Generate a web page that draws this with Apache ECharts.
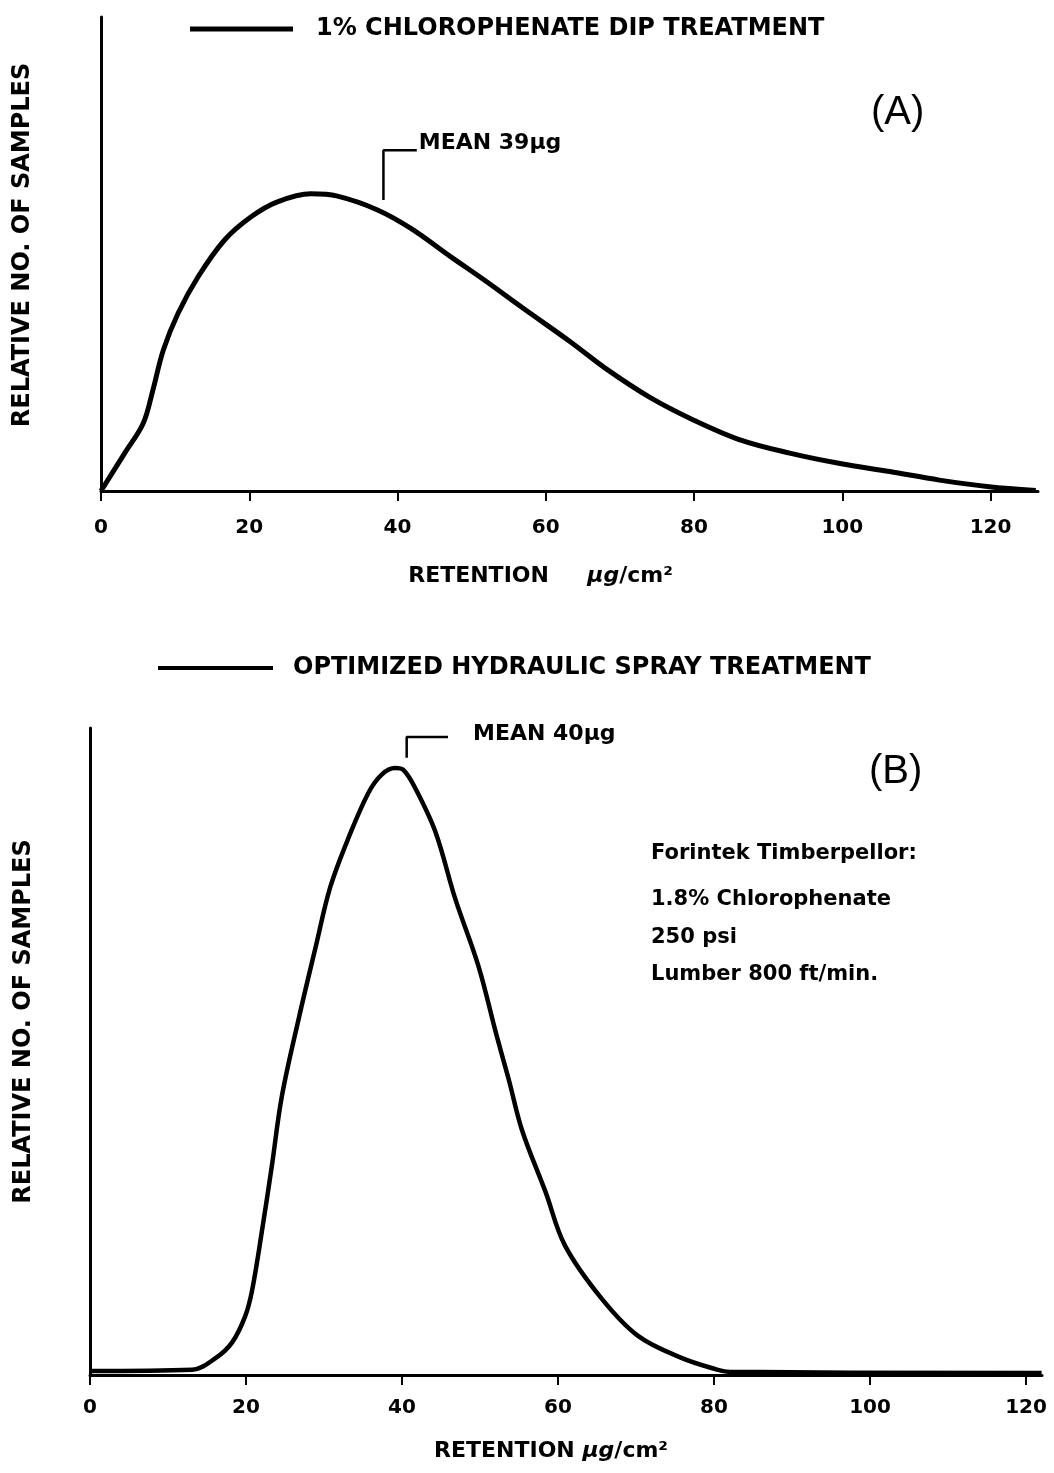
<!DOCTYPE html>
<html lang="en">
<head>
    <meta charset="UTF-8">
    <title>Retention distributions</title>
    <script src="https://cdn.jsdelivr.net/npm/echarts@6/dist/echarts.min.js"></script>
    <style>
        body {
            margin: 0;
            padding: 0;
            background-color: #fff;
        }
        #main {
            width: 1054px;
            height: 1473px;
        }
    </style>
</head>
<body>
<div id="main"></div>

<script>
    // tick labels shared by both x axes
    const xTicks = [0, 20, 40, 60, 80, 100, 120];

    // (A) 1% chlorophenate dip treatment
    const retentionA = [0, 3.2, 5.7, 7.0, 8.4, 10.4, 13.1, 16.7, 20.3, 23.8, 28.3, 31.9, 37.3, 41.8, 47.2, 51.7, 57.0, 63.3, 68.3, 74.1, 79.9, 86.2, 92.9, 99.7, 106.4, 113.1, 119.8, 126.1];
    const samplesA = [0, 8.0, 14.3, 21.3, 29.7, 37.5, 45.2, 53.0, 57.9, 61.0, 62.7, 62.2, 59.3, 55.4, 49.4, 44.5, 38.5, 31.5, 25.6, 19.7, 15.0, 10.8, 8.0, 5.8, 4.1, 2.3, 0.9, 0.1];

    // (B) optimized hydraulic spray treatment
    const retentionB = [0, 13.1, 16.1, 18.2, 19.9, 20.8, 22.1, 23.3, 24.6, 26.8, 28.9, 30.8, 33.2, 35.7, 37.4, 39.1, 40.2, 41.7, 44.3, 46.8, 49.8, 52.1, 53.7, 55.4, 58.4, 60.9, 65.6, 70.3, 75.9, 80.2, 81.9, 122];
    const samplesB = [0.6, 0.8, 2.6, 5.0, 9.1, 13.2, 22.7, 32.2, 43.1, 55.3, 66.0, 75.4, 83.2, 90.0, 92.8, 93.8, 93.5, 90.7, 83.9, 73.7, 63.2, 52.6, 45.6, 37.8, 28.3, 20.0, 11.8, 6.0, 2.6, 0.9, 0.5, 0.3];

    // mean markers (bracket pointing to the curve)
    const meanBracketAx = [38.1, 38.1, 42.6];
    const meanBracketAy = [61.4, 71.9, 71.9];
    const meanBracketBx = [40.6, 40.6, 45.9];
    const meanBracketBy = [95.4, 98.6, 98.6];

    const nameA = '1% CHLOROPHENATE DIP TREATMENT';
    const nameB = 'OPTIMIZED HYDRAULIC SPRAY TREATMENT';
    const noteLines = ['Forintek Timberpellor:', '1.8% Chlorophenate', '250 psi', 'Lumber 800 ft/min.'];

    const FONT = '"DejaVu Sans", sans-serif';

    function pairs(xs, ys) {
        return xs.map((x, i) => [x, ys[i]]);
    }

    function xAxisFor(gridIndex, max, labelMargin, nameGap, namePad, spacer) {
        return {
            type: 'value',
            gridIndex: gridIndex,
            min: 0,
            max: max,
            interval: 20,
            name: 'RETENTION' + spacer + '{u|μg}/cm²',
            nameLocation: 'middle',
            nameGap: nameGap,
            nameTextStyle: {
                color: '#000',
                fontFamily: FONT,
                fontWeight: 'bold',
                fontSize: 22,
                padding: [0, namePad, 0, 0],
                rich: {
                    u: { fontStyle: 'italic', fontFamily: FONT, fontWeight: 'bold', fontSize: 22, color: '#000' }
                }
            },
            axisLine: { lineStyle: { color: '#000', width: 3 } },
            axisTick: { customValues: xTicks, length: 10, lineStyle: { color: '#000', width: 2 } },
            axisLabel: {
                customValues: xTicks,
                margin: labelMargin,
                color: '#000',
                fontFamily: FONT,
                fontWeight: 'bold',
                fontSize: 20
            },
            splitLine: { show: false }
        };
    }

    function yAxisFor(gridIndex, nameGap, namePad) {
        return {
            type: 'value',
            gridIndex: gridIndex,
            min: 0,
            max: 100,
            name: 'RELATIVE NO. OF SAMPLES',
            nameLocation: 'middle',
            nameGap: nameGap,
            nameTextStyle: {
                color: '#000',
                fontFamily: FONT,
                fontWeight: 'bold',
                fontSize: 24,
                padding: [0, 0, 0, namePad]
            },
            axisLine: { show: true, lineStyle: { color: '#000', width: 3 } },
            axisTick: { show: false },
            axisLabel: { show: false },
            splitLine: { show: false }
        };
    }

    const myChart = echarts.init(document.getElementById('main'));

    const option = {
        backgroundColor: '#fff',
        animation: false,
        legend: [
            {
                data: [nameA],
                left: 185,
                top: 12,
                icon: 'rect',
                itemWidth: 103,
                itemHeight: 5,
                textStyle: { color: '#000', fontFamily: FONT, fontWeight: 'bold', fontSize: 24, padding: [0, 0, 0, 18] }
            },
            {
                data: [nameB],
                left: 153,
                top: 651,
                icon: 'rect',
                itemWidth: 115,
                itemHeight: 4,
                textStyle: { color: '#000', fontFamily: FONT, fontWeight: 'bold', fontSize: 24, padding: [0, 0, 0, 15] }
            }
        ],
        grid: [
            { left: 101, right: 16, top: 17, bottom: 982 },
            { left: 90, right: 12, top: 728, bottom: 98 }
        ],
        xAxis: [
            xAxisFor(0, 126.4, 27, 74, 58, '     '),
            xAxisFor(1, 122.05, 23, 65, 30, ' ')
        ],
        yAxis: [
            yAxisFor(0, 66, 18),
            yAxisFor(1, 54, 60)
        ],
        series: [
            {
                name: nameA,
                type: 'line',
                xAxisIndex: 0,
                yAxisIndex: 0,
                data: pairs(retentionA, samplesA),
                smooth: 0.35,
                symbol: 'none',
                color: '#000',
                lineStyle: { color: '#000', width: 5 }
            },
            {
                name: 'meanA',
                type: 'line',
                xAxisIndex: 0,
                yAxisIndex: 0,
                data: pairs(meanBracketAx, meanBracketAy),
                symbol: 'none',
                color: '#000',
                lineStyle: { color: '#000', width: 2.5 },
                endLabel: {
                    show: true,
                    formatter: 'MEAN 39μg',
                    distance: 2,
                    offset: [0, -7],
                    color: '#000',
                    fontFamily: FONT,
                    fontWeight: 'bold',
                    fontSize: 22
                }
            },
            {
                name: nameB,
                type: 'line',
                xAxisIndex: 1,
                yAxisIndex: 1,
                data: pairs(retentionB, samplesB),
                smooth: 0.35,
                symbol: 'none',
                color: '#000',
                lineStyle: { color: '#000', width: 4.5 }
            },
            {
                name: 'meanB',
                type: 'line',
                xAxisIndex: 1,
                yAxisIndex: 1,
                data: pairs(meanBracketBx, meanBracketBy),
                symbol: 'none',
                color: '#000',
                lineStyle: { color: '#000', width: 2.5 },
                endLabel: {
                    show: true,
                    formatter: 'MEAN 40μg',
                    distance: 25,
                    offset: [0, -3],
                    color: '#000',
                    fontFamily: FONT,
                    fontWeight: 'bold',
                    fontSize: 22
                }
            }
        ],
        graphic: [
            {
                type: 'text',
                x: 871,
                y: 113,
                style: { text: '(A)', fill: '#000', font: '40px "Liberation Sans", sans-serif', verticalAlign: 'middle' }
            },
            {
                type: 'text',
                x: 869,
                y: 772,
                style: { text: '(B)', fill: '#000', font: '40px "Liberation Sans", sans-serif', verticalAlign: 'middle' }
            },
            {
                type: 'group',
                x: 651,
                y: 854,
                children: noteLines.map((line, i) => ({
                    type: 'text',
                    x: 0,
                    y: [0, 46, 84, 121][i],
                    style: { text: line, fill: '#000', font: 'bold 21px "DejaVu Sans", sans-serif', verticalAlign: 'middle' }
                }))
            }
        ]
    };

    myChart.setOption(option);
</script>
</body>
</html>
